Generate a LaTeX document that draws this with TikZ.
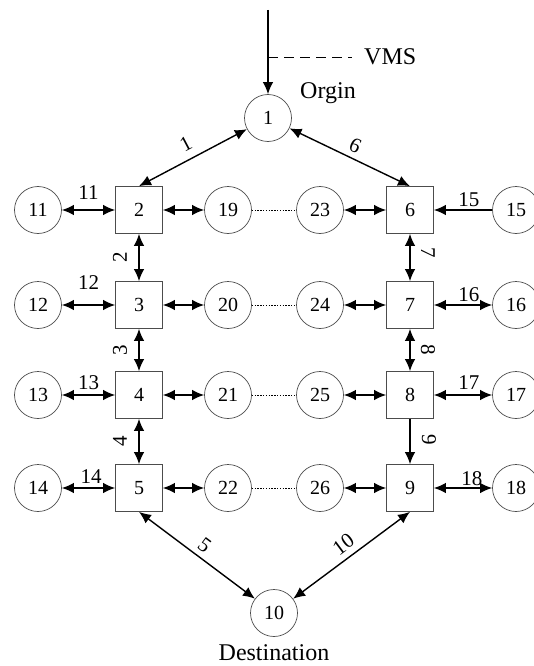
\documentclass[tikz,border=0pt]{standalone}
\usepackage{fontspec}
\setmainfont{Liberation Serif}
\usetikzlibrary{arrows.meta}
\begin{document}
\begin{tikzpicture}[x=1pt,y=-1pt,
  circ/.style={circle, draw=black!70, line width=0.7pt, minimum size=47pt, inner sep=0pt, font=\fontsize{20}{22}\selectfont},
  sq/.style={rectangle, draw=black!70, line width=0.7pt, minimum size=47pt, inner sep=0pt, font=\fontsize{20}{22}\selectfont},
  tipL/.tip={Latex[length=12pt,width=10.5pt]},
  dbl/.style={tipL-tipL, line width=1.4pt},
  sgl/.style={-tipL, line width=1.4pt},
  dotline/.style={line width=0.9pt, dash pattern=on 1.4pt off 1.4pt},
  lab/.style={font=\fontsize{21}{23}\selectfont, inner sep=0pt},
  big/.style={font=\fontsize{24}{26}\selectfont}]
\useasboundingbox (0,0) rectangle (534,666);

% nodes
\node[circ] (n1) at (268,118) {1};
\node[circ] (n10) at (274,613) {10};

\node[sq] (s2) at (139,210) {2};
\node[sq] (s3) at (139,305) {3};
\node[sq] (s4) at (139,395) {4};
\node[sq] (s5) at (139,488) {5};
\node[sq] (s6) at (410,210) {6};
\node[sq] (s7) at (410,305) {7};
\node[sq] (s8) at (410,395) {8};
\node[sq] (s9) at (410,488) {9};

\node[circ] (c11) at (38,210) {11};
\node[circ] (c12) at (38,305) {12};
\node[circ] (c13) at (38,395) {13};
\node[circ] (c14) at (38,488) {14};
\node[circ] (c15) at (516,210) {15};
\node[circ] (c16) at (516,305) {16};
\node[circ] (c17) at (516,395) {17};
\node[circ] (c18) at (516,488) {18};

\node[circ] (c19) at (228,210) {19};
\node[circ] (c20) at (228,305) {20};
\node[circ] (c21) at (228,395) {21};
\node[circ] (c22) at (228,488) {22};
\node[circ] (c23) at (320,210) {23};
\node[circ] (c24) at (320,305) {24};
\node[circ] (c25) at (320,395) {25};
\node[circ] (c26) at (320,488) {26};

% texts
\coordinate (top) at (268,10);
\coordinate (vms) at (268,57);
\node[big, anchor=west, inner xsep=12pt, inner ysep=0pt] (vmst) at (352,57) {VMS};
\node[big] (orgin) at (328,93) {Orgin};
\node[big] (dest) at (274,653) {Destination};

% origin feed
\draw[sgl] (top) -- (n1);
\draw[line width=0.9pt, dash pattern=on 10pt off 6pt] (vms) -- (vmst.west);

% diagonal edges
\draw[dbl] (s2.north) -- node[lab, sloped, above=8pt] {1} (n1);
\draw[dbl] (n1) -- node[lab, sloped, above=5pt] {6} (s6.north);
\draw[dbl] (s5.south) -- node[lab, sloped, above=5pt] {5} (n10);
\draw[dbl] (n10) -- node[lab, sloped, above=6pt] {10} (s9.south);

% vertical edges
\draw[dbl] (s2.south) -- node[lab, xshift=-19pt, rotate=90] {2} (s3.north);
\draw[dbl] (s3.south) -- node[lab, xshift=-19pt, rotate=90] {3} (s4.north);
\draw[dbl] (s4.south) -- node[lab, xshift=-19pt, rotate=90] {4} (s5.north);
\draw[dbl] (s6.south) -- node[lab, xshift=18pt, yshift=5pt, rotate=-90] {7} (s7.north);
\draw[dbl] (s7.south) -- node[lab, xshift=18pt, rotate=-90] {8} (s8.north);
\draw[sgl] (s8.south) -- node[lab, xshift=19pt, yshift=2pt, rotate=-90] {9} (s9.north);

% side edges left
\draw[dbl] (c11) -- node[lab, yshift=17pt] {11} (s2.west);
\draw[dbl] (c12) -- node[lab, yshift=22pt] {12} (s3.west);
\draw[dbl] (c13) -- node[lab, yshift=12pt] {13} (s4.west);
\draw[dbl] (c14) -- node[lab, pos=0.55, yshift=11pt] {14} (s5.west);

% side edges right
\draw[sgl] (c15) -- node[lab, pos=0.4, yshift=10pt] {15} (s6.east);
\draw[dbl] (s7.east) -- node[lab, pos=0.6, yshift=10pt] {16} (c16);
\draw[dbl] (s8.east) -- node[lab, pos=0.6, yshift=12pt] {17} (c17);
\draw[dbl] (s9.east) -- node[lab, pos=0.65, yshift=9pt] {18} (c18);

% inner edges
\draw[dbl] (s2.east) -- (c19);
\draw[dbl] (s3.east) -- (c20);
\draw[dbl] (s4.east) -- (c21);
\draw[dbl] (s5.east) -- (c22);
\draw[dbl] (c23) -- (s6.west);
\draw[dbl] (c24) -- (s7.west);
\draw[dbl] (c25) -- (s8.west);
\draw[dbl] (c26) -- (s9.west);

% dotted links
\draw[dotline] (c19) -- (c23);
\draw[dotline] (c20) -- (c24);
\draw[dotline] (c21) -- (c25);
\draw[dotline] (c22) -- (c26);
\end{tikzpicture}
\end{document}
